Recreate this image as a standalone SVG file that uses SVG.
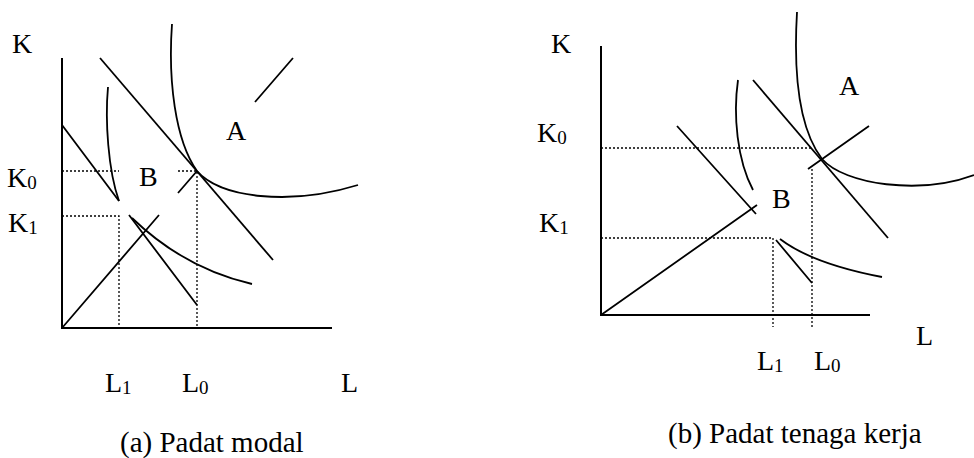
<svg xmlns="http://www.w3.org/2000/svg" width="974" height="458" viewBox="0 0 974 458">
<style>
.ln{fill:none;stroke:#000;stroke-width:1.8}
.ax{fill:none;stroke:#000;stroke-width:2}
.dt{fill:none;stroke:#000;stroke-width:1.3;stroke-dasharray:2 2}
.t{font-family:"Liberation Serif","Times New Roman",serif;font-size:28px;fill:#000}
.c{font-size:29px}
.s{font-size:19px}
</style>
<rect width="974" height="458" fill="#fff"/>
<g id="chart-a">
  <g id="connectors-a">
    <path class="ax" d="M62,58 V328 H332"/>
    <path class="dt" d="M62,171 H119 M178,171 H197 V328"/>
    <path class="dt" d="M62,216 H119 V328"/>
    <path class="ln" d="M62,328 L159,215 M178,193 L197,171 M255,102 L293,58"/>
    <path class="ln" d="M62,125 L119,201 M129,215 L197,305"/>
    <path class="ln" d="M100,58 L273,260"/>
    <path class="ln" d="M108,87 C105,120 108,170 119,201"/>
    <path class="ln" d="M132,218 C160,245 200,272 252,284"/>
    <path class="ln" d="M172,24 C168,80 175,140 197,171 C220,198 290,206 358,185"/>
  </g>
  <g id="labels-a">
    <text class="t" x="12" y="53">K</text>
    <text class="t" x="7" y="187">K<tspan class="s" dy="2">0</tspan></text>
    <text class="t" x="8" y="232">K<tspan class="s" dy="2">1</tspan></text>
    <text class="t" x="226" y="140">A</text>
    <text class="t" x="139" y="186">B</text>
    <text class="t" x="105" y="392">L<tspan class="s" dy="2">1</tspan></text>
    <text class="t" x="182" y="392">L<tspan class="s" dy="2">0</tspan></text>
    <text class="t" x="341" y="392">L</text>
    <text class="t c" x="120" y="452">(a) Padat modal</text>
  </g>
</g>
<g id="chart-b">
  <g id="connectors-b">
    <path class="ax" d="M601,46 V315 H870"/>
    <path class="dt" d="M601,148 H812"/>
    <path class="dt" d="M812,169 V327"/>
    <path class="dt" d="M601,238 H773 V327"/>
    <path class="ln" d="M601,315 L757,205 M808,169 L869,126"/>
    <path class="ln" d="M677,126 L756,214 M776,240 L812,283"/>
    <path class="ln" d="M753,80 L888,238"/>
    <path class="ln" d="M738,80 C733,115 737,160 753,190"/>
    <path class="ln" d="M780,239 C805,258 845,270 882,277"/>
    <path class="ln" d="M797,12 C793,80 800,130 822,159 C845,185 920,195 974,175"/>
  </g>
  <g id="labels-b">
    <text class="t" x="551" y="53">K</text>
    <text class="t" x="537" y="142">K<tspan class="s" dy="2">0</tspan></text>
    <text class="t" x="539" y="232">K<tspan class="s" dy="2">1</tspan></text>
    <text class="t" x="839" y="95">A</text>
    <text class="t" x="772" y="208">B</text>
    <text class="t" x="757" y="370">L<tspan class="s" dy="2">1</tspan></text>
    <text class="t" x="814" y="370">L<tspan class="s" dy="2">0</tspan></text>
    <text class="t" x="916" y="345">L</text>
    <text class="t c" x="668" y="443">(b) Padat tenaga kerja</text>
  </g>
</g>
</svg>
